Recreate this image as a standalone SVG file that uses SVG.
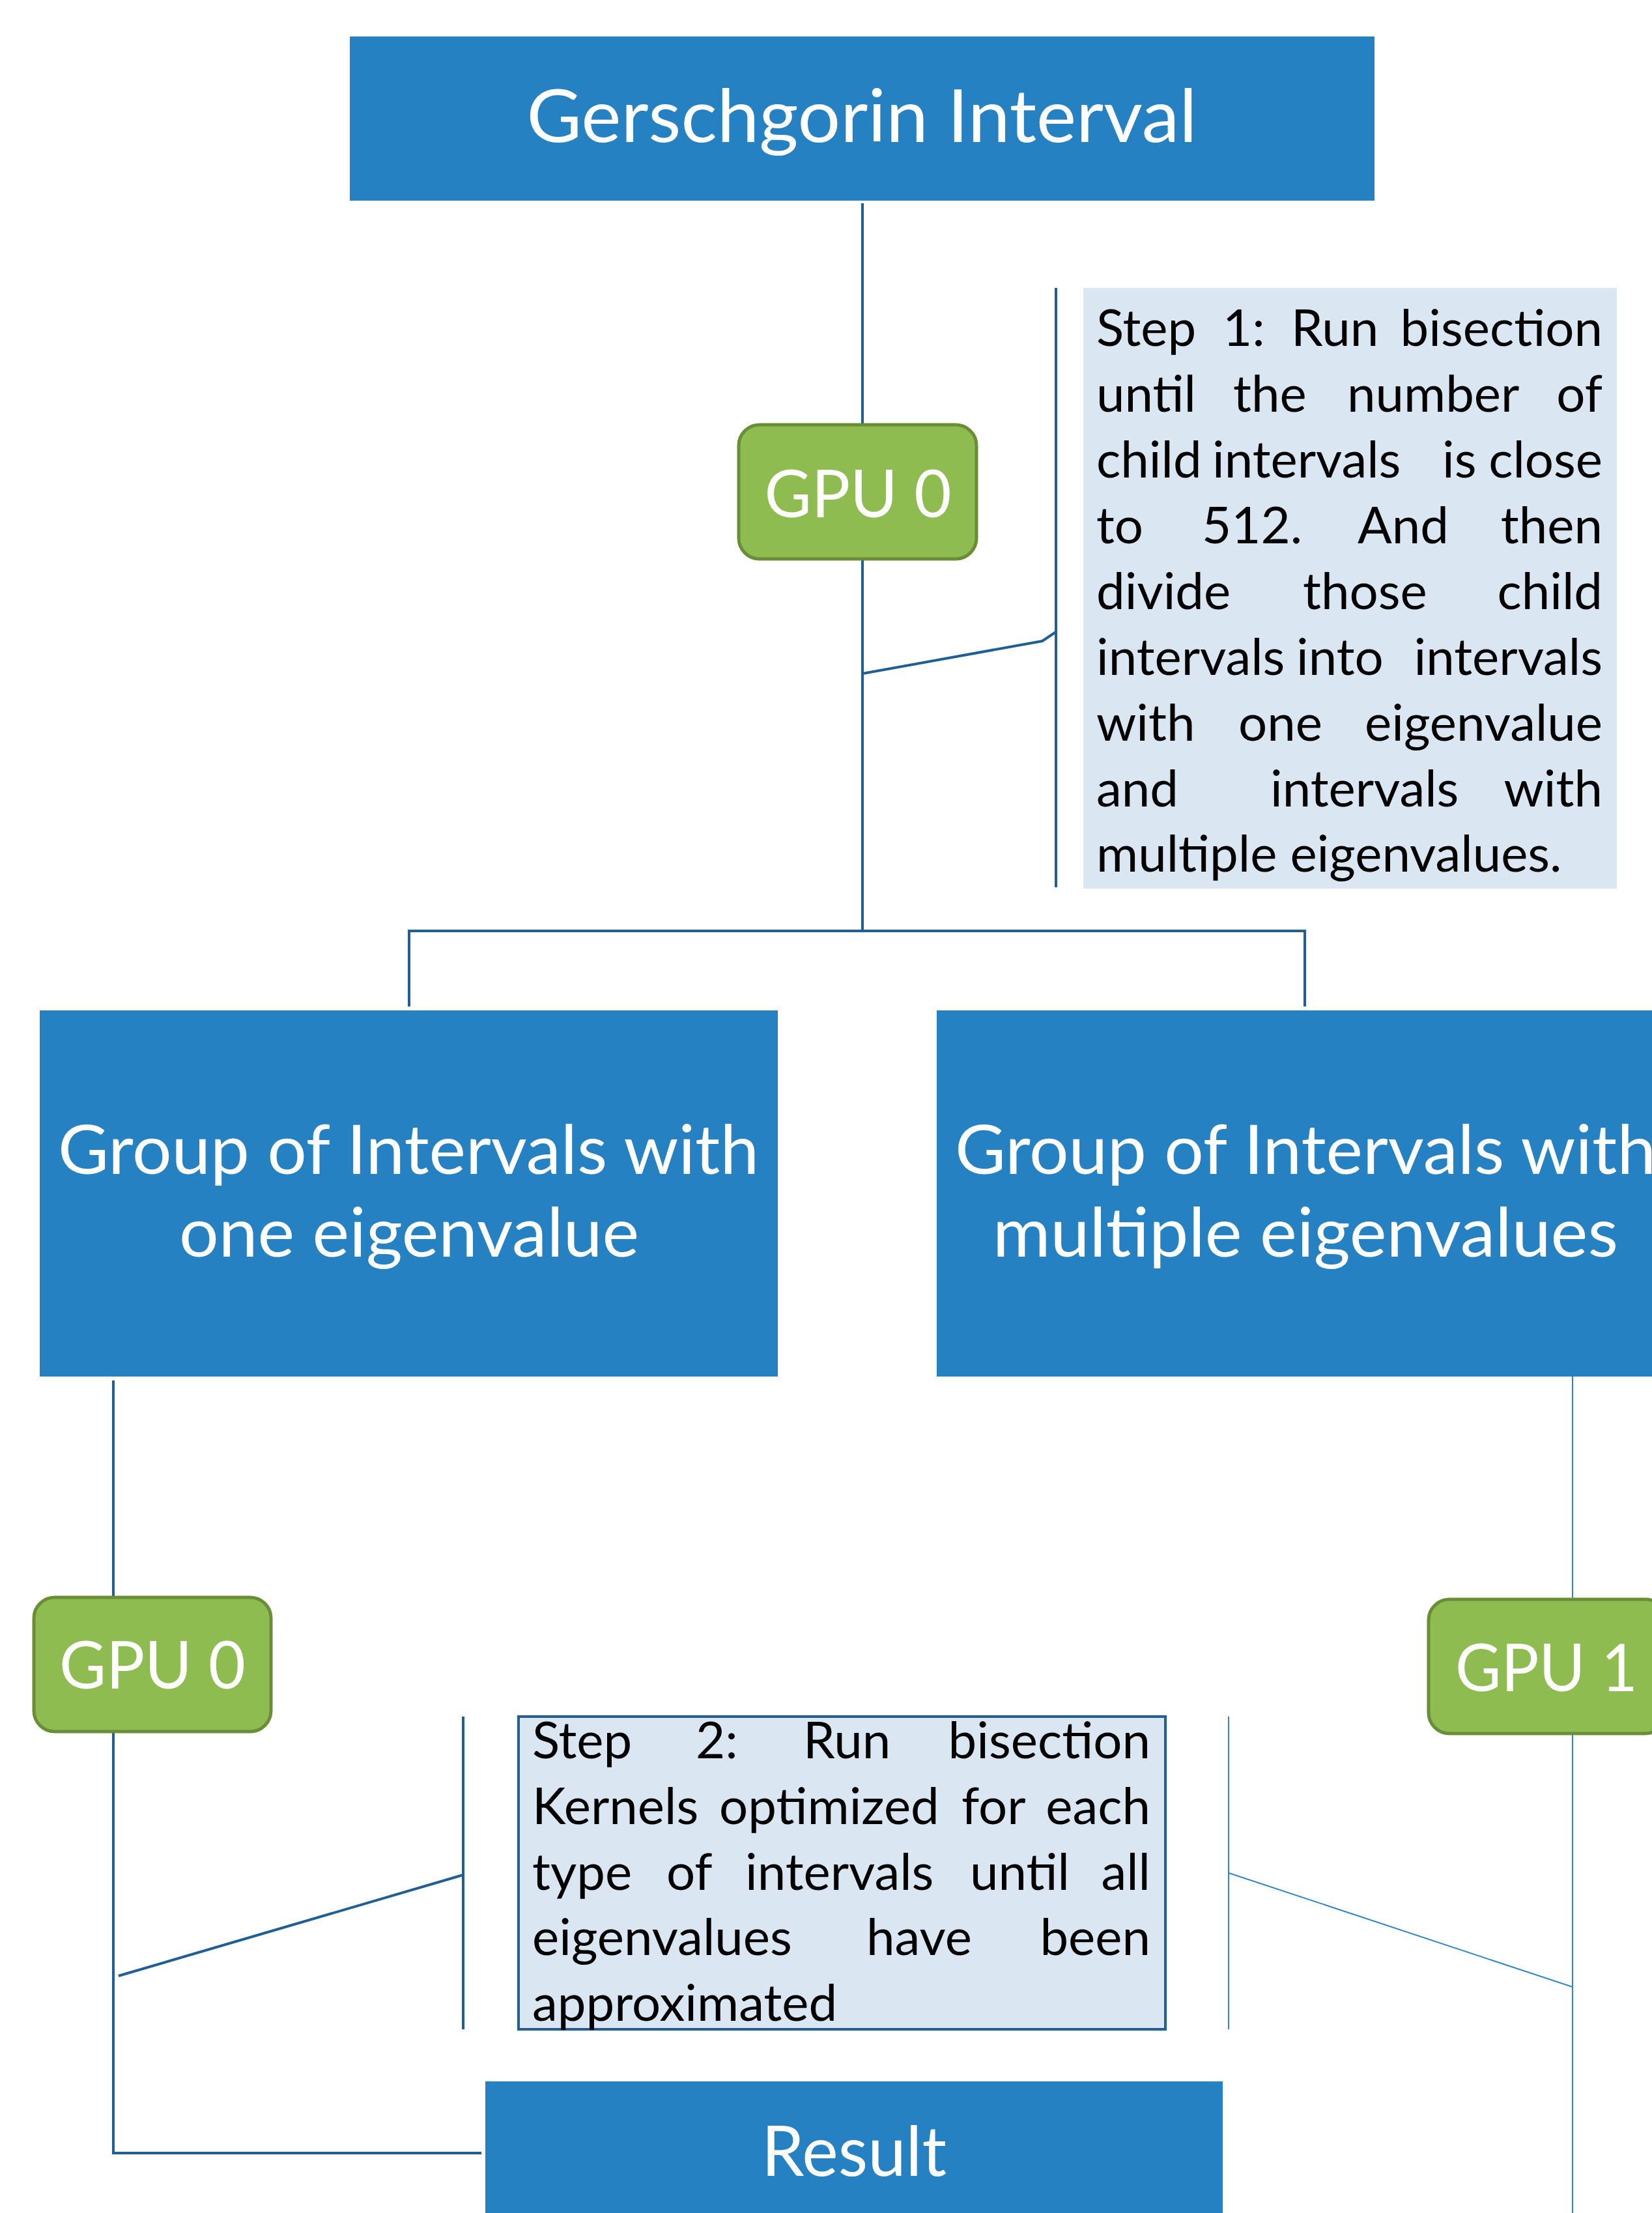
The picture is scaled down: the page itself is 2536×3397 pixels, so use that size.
<svg xmlns="http://www.w3.org/2000/svg" width="2536" height="3397" viewBox="0 0 2536 3397">
  <style>
    .box { fill: #2581C1; }
    .gpu { fill: #8EBC50; stroke: #6A8E37; stroke-width: 5; }
    .note { fill: #DAE6F1; }
    .title { font-family: Lato, "Open Sans", sans-serif; fill: #FFFFFF; text-anchor: middle; }
    .body { font-family: Lato, "Open Sans", sans-serif; font-size: 78px; fill: #000000; }
    .link { fill: none; stroke: #1F5F93; stroke-width: 4; }
    .thin { fill: none; stroke: #2E86C8; stroke-width: 2; }
    .end { text-anchor: end; }
  </style>

  <!-- connectors -->
  <g id="connectors">
    <line class="link" x1="1324" y1="312" x2="1324" y2="1429"/>
    <polyline class="link" points="628,1545 628,1429 2003,1429 2003,1545"/>
    <polyline class="link" points="174,2119 174,3305 739,3305"/>
    <line class="thin" x1="2414" y1="2008" x2="2414" y2="3397"/>
    <!-- step 1 callout leader -->
    <line class="link" x1="1621" y1="442" x2="1621" y2="1362"/>
    <polyline class="link" stroke-width="5" points="1324,1034 1600,984 1621,970"/>
    <!-- step 2 callout leaders -->
    <line class="link" x1="711" y1="2635" x2="711" y2="3115"/>
    <line class="link" x1="182" y1="3033" x2="711" y2="2878"/>
    <line class="thin" x1="1886" y1="2635" x2="1886" y2="3115"/>
    <line class="thin" x1="1886" y1="2875" x2="2414" y2="3050"/>
  </g>

  <g id="gerschgorin">
    <rect class="box" x="537" y="56" width="1573" height="252"/>
    <text class="title" x="1323" y="218" font-size="113" textLength="1029" lengthAdjust="spacingAndGlyphs">Gerschgorin Interval</text>
  </g>

  <g id="gpu0-top">
    <rect class="gpu" x="1134" y="652" width="365" height="206" rx="32"/>
    <text class="title" x="1317" y="794" font-size="100" textLength="287" lengthAdjust="spacingAndGlyphs">GPU 0</text>
  </g>

  <!-- justified paragraph: one text per line, last word pinned to the right margin -->
  <g id="step1">
    <rect class="note" x="1663" y="442" width="819" height="922"/>
    <text class="body" y="531"><tspan x="1683">Step</tspan><tspan x="1877">1:</tspan><tspan x="1982">Run</tspan><tspan class="end" x="2460">bisection</tspan></text>
    <text class="body" y="632"><tspan x="1683">until</tspan><tspan x="1893">the</tspan><tspan x="2068">number</tspan><tspan class="end" x="2460">of</tspan></text>
    <text class="body" y="733"><tspan x="1683">child</tspan><tspan x="1861">intervals</tspan><tspan x="2214">is</tspan><tspan class="end" x="2460">close</tspan></text>
    <text class="body" y="834"><tspan x="1683">to</tspan><tspan x="1845">512.</tspan><tspan x="2084">And</tspan><tspan class="end" x="2460">then</tspan></text>
    <text class="body" y="935"><tspan x="1683">divide</tspan><tspan x="2000">those</tspan><tspan class="end" x="2460">child</tspan></text>
    <text class="body" y="1036"><tspan x="1683">intervals</tspan><tspan x="1990">into</tspan><tspan class="end" x="2460">intervals</tspan></text>
    <text class="body" y="1137"><tspan x="1683">with</tspan><tspan x="1901">one</tspan><tspan class="end" x="2460">eigenvalue</tspan></text>
    <text class="body" y="1238"><tspan x="1683">and</tspan><tspan x="1950">intervals</tspan><tspan class="end" x="2460">with</tspan></text>
    <text class="body" x="1683" y="1338">multiple eigenvalues.</text>
  </g>

  <g id="group-one">
    <rect class="box" x="61" y="1551" width="1133" height="562"/>
    <text class="title" x="627" y="1802" font-size="104" textLength="1076" lengthAdjust="spacingAndGlyphs">Group of Intervals with</text>
    <text class="title" x="628" y="1929" font-size="104" textLength="706" lengthAdjust="spacingAndGlyphs">one eigenvalue</text>
  </g>

  <g id="group-multiple">
    <rect class="box" x="1438" y="1551" width="1133" height="562"/>
    <text class="title" x="2004" y="1802" font-size="104" textLength="1076" lengthAdjust="spacingAndGlyphs">Group of Intervals with</text>
    <text class="title" x="2004" y="1929" font-size="104" textLength="960" lengthAdjust="spacingAndGlyphs">multiple eigenvalues</text>
  </g>

  <g id="gpu0-bottom">
    <rect class="gpu" x="52" y="2452" width="364" height="206" rx="32"/>
    <text class="title" x="234" y="2592" font-size="100" textLength="286" lengthAdjust="spacingAndGlyphs">GPU 0</text>
  </g>

  <g id="gpu1">
    <rect class="gpu" x="2193" y="2455" width="365" height="206" rx="32"/>
    <text class="title" x="2374" y="2596" font-size="100" textLength="280" lengthAdjust="spacingAndGlyphs">GPU 1</text>
  </g>

  <g id="step2">
    <rect class="note" x="796" y="2635" width="993" height="480" stroke="#1F5F93" stroke-width="4"/>
    <text class="body" y="2699"><tspan x="817">Step</tspan><tspan x="1068">2:</tspan><tspan x="1233">Run</tspan><tspan class="end" x="1766">bisection</tspan></text>
    <text class="body" y="2800"><tspan x="817">Kernels</tspan><tspan x="1104">optimized</tspan><tspan x="1476">for</tspan><tspan class="end" x="1766">each</tspan></text>
    <text class="body" y="2901"><tspan x="817">type</tspan><tspan x="1023">of</tspan><tspan x="1144">intervals</tspan><tspan x="1489">until</tspan><tspan class="end" x="1766">all</tspan></text>
    <text class="body" y="3001"><tspan x="817">eigenvalues</tspan><tspan x="1330">have</tspan><tspan class="end" x="1766">been</tspan></text>
    <text class="body" x="817" y="3102">approximated</text>
  </g>

  <g id="result">
    <rect class="box" x="745" y="3195" width="1132" height="220"/>
    <text class="title" x="1311" y="3340" font-size="106" textLength="284" lengthAdjust="spacingAndGlyphs">Result</text>
  </g>
</svg>
